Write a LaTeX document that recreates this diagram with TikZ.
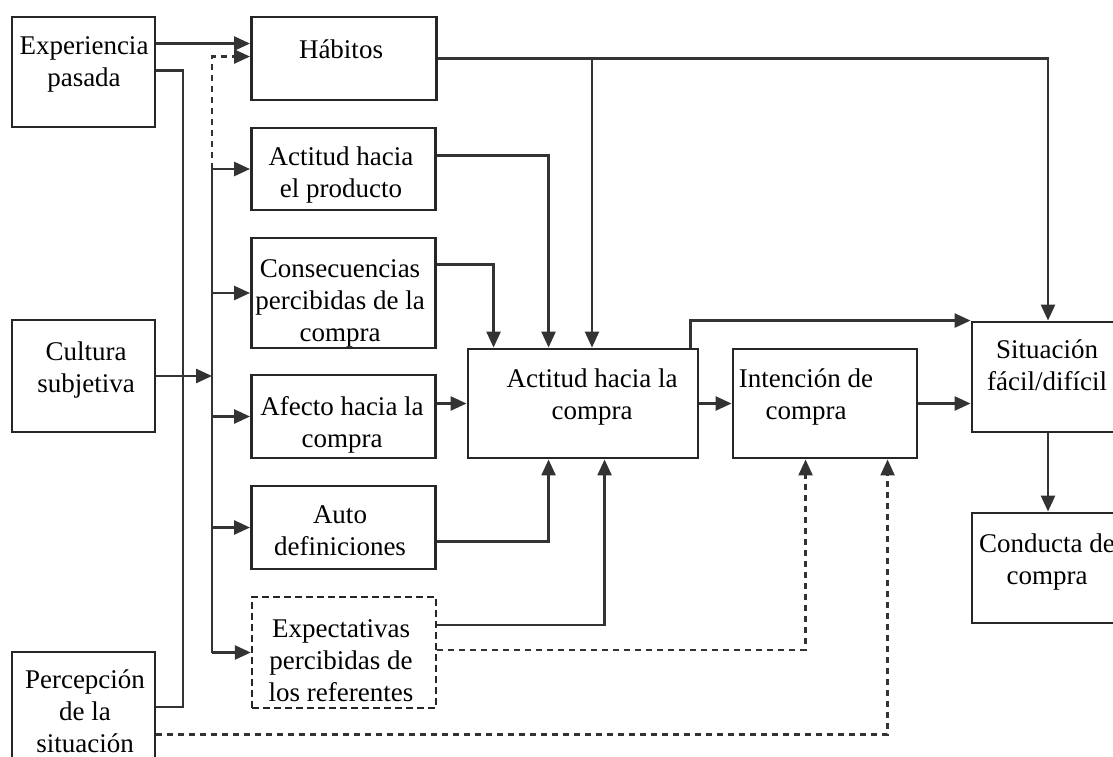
\documentclass[tikz,border=0pt]{standalone}
\usepackage{fontspec}
\setmainfont{Liberation Serif}
\usetikzlibrary{arrows.meta,calc}
\begin{document}
\begin{tikzpicture}[x=1pt,y=-1pt,
  box/.style={draw=black!85, line width=2.9pt, rectangle, inner sep=0pt},
  dashbox/.style={box, line width=2.4pt, dash pattern=on 7pt off 4pt},
  lbl/.style={font=\fontsize{27}{32}\selectfont, align=center, inner sep=0pt, anchor=north, text=black},
  link/.style={draw=black!80, line width=2.6pt},
  arr/.style={link, -{Triangle[length=16pt,width=14pt]}},
  dsh/.style={line width=2.3pt, dash pattern=on 6pt off 5pt},
]
\useasboundingbox (0,0) rectangle (1113,757);
\clip (0,0) rectangle (1113,757);

% ---- boxes ----
\node[box, minimum width=143pt, minimum height=110pt] (exp)  at (83.5,72)    {};
\node[box, minimum width=185pt, minimum height=83pt]  (hab)  at (344,58.5)   {};
\node[box, minimum width=184pt, minimum height=82pt]  (actp) at (343.5,169)  {};
\node[box, minimum width=184pt, minimum height=110pt] (cons) at (343.5,293)  {};
\node[box, minimum width=143pt, minimum height=112pt] (cult) at (83.5,376)   {};
\node[box, minimum width=184pt, minimum height=83pt]  (afe)  at (343.5,416.5) {};
\node[box, minimum width=184pt, minimum height=83pt]  (auto) at (343.5,527.5) {};
\node[dashbox, minimum width=184pt, minimum height=111pt] (expe) at (344,652.5) {};
\node[box, minimum width=143pt, minimum height=110pt] (perc) at (83.5,707)   {};
\node[box, minimum width=230pt, minimum height=109pt] (acom) at (583,403.5)  {};
\node[box, minimum width=184pt, minimum height=109pt] (inte) at (825,403.5)  {};
\node[box, minimum width=152pt, minimum height=110pt] (sit)  at (1048,377)   {};
\node[box, minimum width=152pt, minimum height=110pt] (cond) at (1048,568)   {};

% ---- box texts ----
\node[lbl] (expT)  at (84,31.6)    {\strut Experiencia\\\strut pasada};
\node[lbl] (habT)  at (341,35.6)   {\strut Hábitos};
\node[lbl] (actpT) at (341,142.6)  {\strut Actitud hacia\\\strut el producto};
\node[lbl] (consT) at (340,254.6)  {\strut Consecuencias\\\strut percibidas de la\\\strut compra};
\node[lbl] (cultT) at (86,337.6)   {\strut Cultura\\\strut subjetiva};
\node[lbl] (afeT)  at (342,392.6)  {\strut Afecto hacia la\\\strut compra};
\node[lbl] (autoT) at (340,500.6)  {\strut Auto\\\strut definiciones};
\node[lbl] (expeT) at (341,614.6)  {\strut Expectativas\\\strut percibidas de\\\strut los referentes};
\node[lbl] (percT) at (85,665.6)   {\strut Percepción\\\strut de la\\\strut situación};
\node[lbl] (acomT) at (592,364.6)  {\strut Actitud hacia la\\\strut compra};
\node[lbl] (inteT) at (806,364.6)  {\strut Intención de\\\strut compra};
\node[lbl] (sitT)  at (1047,335.6) {\strut Situación\\\strut fácil/difícil};
\node[lbl] (condT) at (1047,529.6) {\strut Conducta de\\\strut compra};

% ---- left-hand influences ----
\draw[arr] ($(exp.north east)+(0,28)$) -- ($(hab.north west)+(0,28)$);
\coordinate (split) at (183,376);
\draw[link] ($(exp.north east)+(0,55)$) -| (split) |- (perc.east);
\coordinate (bus) at (212,376);
\draw[arr] (cult.east) -- (bus);

% distribution bus feeding the middle column
\draw[link] (bus |- actp.west) -- (bus |- expe.west);
\foreach \n in {actp,cons,afe,auto,expe}
  \draw[arr] (bus |- \n.west) -- (\n.west);
\coordinate (habin) at ($(hab.north west)+(0,41)$);
\draw[arr,dsh] (bus |- actp.west) -- (bus |- habin) -- (habin);

% ---- into the attitude towards purchase ----
\coordinate (hj) at (592,60);
\draw[arr] ($(hab.north east)+(0,43)$) -| (sit.north);
\draw[arr] (hj) -- (hj |- acom.north);
\draw[arr] ($(actp.north east)+(0,29)$) -| ($(acom.north west)+(82,0)$);
\draw[arr] ($(cons.north east)+(0,28)$) -| ($(acom.north west)+(27,0)$);
\draw[arr] (afe.east |- acom.west) -- (acom.west);
\draw[arr] ($(auto.north east)+(0,57)$) -| ($(acom.south west)+(82,0)$);
\draw[arr] ($(expe.north east)+(0,29)$) -| ($(acom.south west)+(138,0)$);

% ---- dashed influences on intention ----
\draw[arr,dsh] ($(expe.north east)+(0,54)$) -| ($(inte.south west)+(74,0)$);
\draw[arr,dsh] ($(perc.north east)+(0,84)$) -| ($(inte.south west)+(156,0)$);

% ---- right-hand chain ----
\draw[arr] (acom.east) -- (inte.west);
\draw[arr] ($(acom.north east)+(-9,0)$) |- (sit.north west);
\draw[arr] (inte.east) -- (inte.east -| sit.west);
\draw[arr] (sit.south) -- (cond.north);
\end{tikzpicture}
\end{document}
